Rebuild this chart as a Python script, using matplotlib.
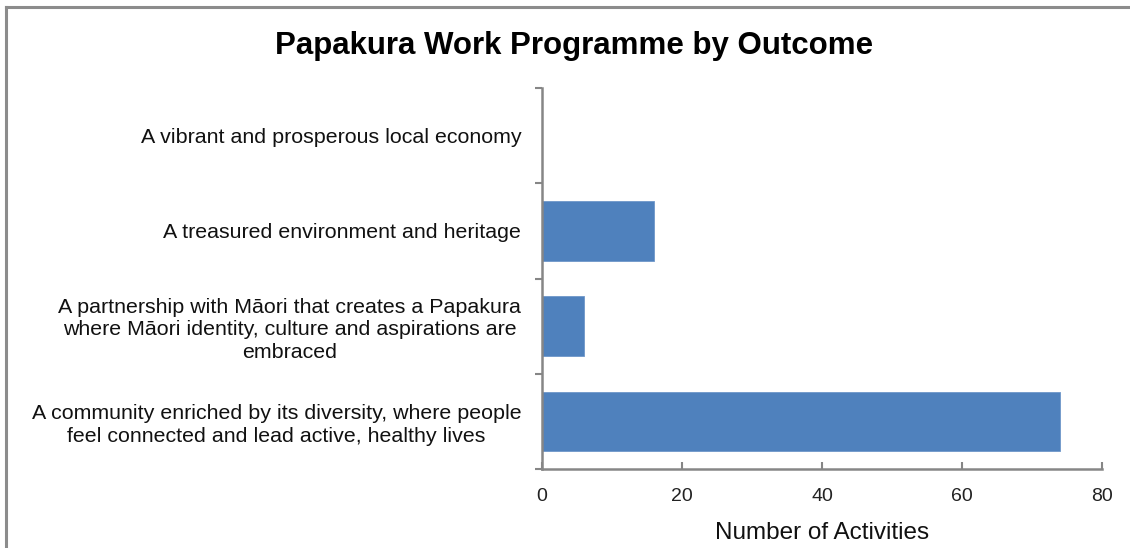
import numpy as np
import matplotlib
matplotlib.use("Agg")
import matplotlib.pyplot as plt
from matplotlib.lines import Line2D

plt.rcParams['font.family'] = ['Liberation Sans', 'DejaVu Sans']

outcomes = [
    "A community enriched by its diversity, where people\nfeel connected and lead active, healthy lives",
    "A partnership with M\u0101ori that creates a Papakura\nwhere M\u0101ori identity, culture and aspirations are\nembraced",
    "A treasured environment and heritage",
    "A vibrant and prosperous local economy",
]
activities = [74, 6, 16, 0]
xticks = [0, 20, 40, 60, 80]

bar_color = '#4F81BD'
axis_color = '#868686'

fig = plt.figure(figsize=(11.3, 5.48), dpi=100)
ax = fig.add_axes([542/1130, 1 - 469/548, (1102-542)/1130, (469-88)/548])

ypos = np.arange(len(outcomes))
ax.barh(ypos, activities, height=0.625, color=bar_color, edgecolor='#6F97C9', linewidth=0.6)

ax.set_xlim(0, 80)
ax.set_ylim(-0.5, len(outcomes) - 0.5)
ax.set_xticks(xticks)
ax.set_xticklabels([str(v) for v in xticks], fontsize=14, color='#222222')
ax.set_yticks(ypos)
ax.set_yticklabels(outcomes, fontsize=15.4, color='#111111', multialignment='center',
                   linespacing=1.22)
ax.set_yticks(np.arange(-0.5, len(outcomes)), minor=True)

ax.tick_params(axis='y', which='major', length=0, pad=15)
ax.tick_params(axis='y', which='minor', length=5, width=1.5, color=axis_color, direction='out')
ax.tick_params(axis='x', which='major', length=5, width=1.5, color=axis_color, direction='in', pad=14)

for s in ['top', 'right']:
    ax.spines[s].set_visible(False)
for s in ['left', 'bottom']:
    ax.spines[s].set_color(axis_color)
    ax.spines[s].set_linewidth(1.8)

ax.set_xlabel("Number of Activities", fontsize=17.5, color='#111111', labelpad=12)

fig.text(574/1130, 1 - 46/548, "Papakura Work Programme by Outcome",
         ha='center', va='center', fontsize=22.5, fontweight='bold', color='#000000')

# outer chart border (top and left visible)
fig.add_artist(Line2D([6/1130, 1], [1 - 7/548, 1 - 7/548], transform=fig.transFigure,
                      color='#8C8C8C', linewidth=2.2))
fig.add_artist(Line2D([6/1130, 6/1130], [0, 1 - 7/548], transform=fig.transFigure,
                      color='#8C8C8C', linewidth=2.2))

fig.savefig("out.png", dpi=100)
